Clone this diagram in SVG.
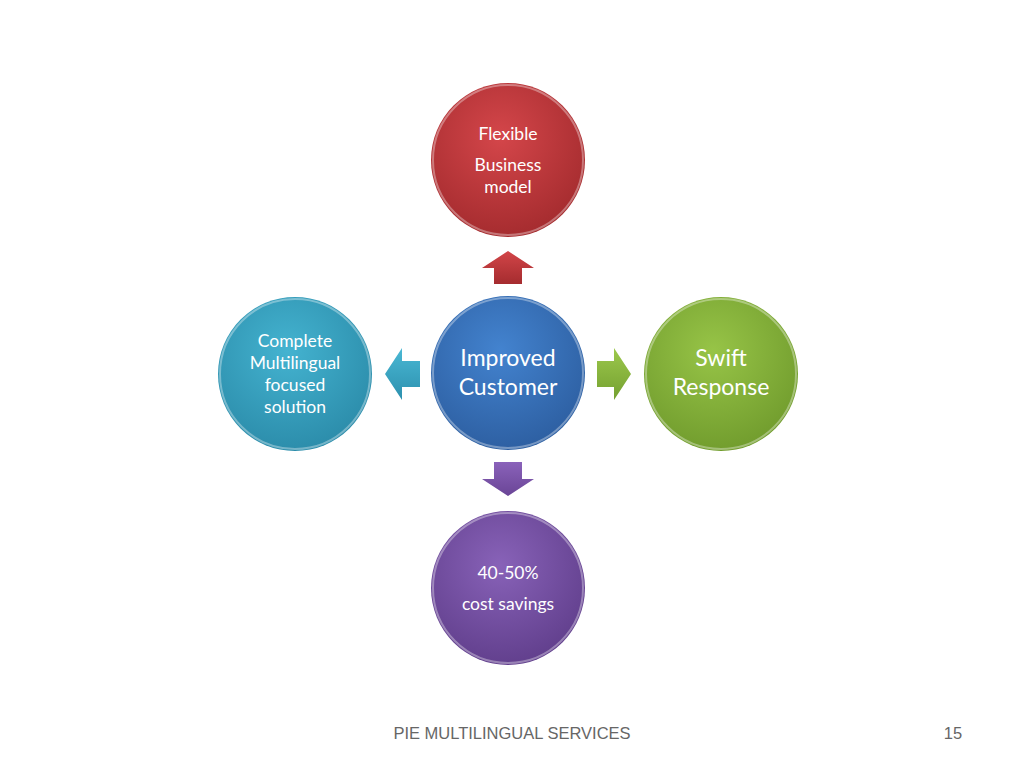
<svg xmlns="http://www.w3.org/2000/svg" width="1024" height="768" viewBox="0 0 1024 768">
<style>
.t{font-family:Lato,"Open Sans","DejaVu Sans",sans-serif;fill:#fff;text-anchor:middle}
.s{font-size:17.5px}
.l{font-size:23px}
.rim{fill:none;stroke:#fff;stroke-opacity:0.35;stroke-width:2}
.foot{font-family:"Liberation Sans",Arial,sans-serif;font-size:16.5px;fill:#666}
</style>
<defs>
<radialGradient id="gr" cx="0.45" cy="0.35" r="0.7"><stop offset="0" stop-color="#d4464a"/><stop offset="1" stop-color="#a22a2d"/></radialGradient>
<radialGradient id="gb" cx="0.45" cy="0.35" r="0.7"><stop offset="0" stop-color="#4383cf"/><stop offset="1" stop-color="#2c5d9f"/></radialGradient>
<radialGradient id="gt" cx="0.45" cy="0.35" r="0.7"><stop offset="0" stop-color="#44b3d0"/><stop offset="1" stop-color="#2a8aa8"/></radialGradient>
<radialGradient id="gg" cx="0.45" cy="0.35" r="0.7"><stop offset="0" stop-color="#97c447"/><stop offset="1" stop-color="#6f9a2c"/></radialGradient>
<radialGradient id="gp" cx="0.45" cy="0.35" r="0.7"><stop offset="0" stop-color="#8862b8"/><stop offset="1" stop-color="#5f3d8a"/></radialGradient>
<linearGradient id="ar" x1="0" y1="0" x2="0" y2="1"><stop offset="0" stop-color="#d24548"/><stop offset="1" stop-color="#a52c2f"/></linearGradient>
<linearGradient id="ap" x1="0" y1="0" x2="0" y2="1"><stop offset="0" stop-color="#8a62ba"/><stop offset="1" stop-color="#6a4596"/></linearGradient>
<linearGradient id="at" x1="0" y1="0" x2="0" y2="1"><stop offset="0" stop-color="#4ab8d4"/><stop offset="1" stop-color="#2c90ae"/></linearGradient>
<linearGradient id="ag" x1="0" y1="0" x2="0" y2="1"><stop offset="0" stop-color="#9cc84c"/><stop offset="1" stop-color="#74a030"/></linearGradient>
</defs>
<rect width="1024" height="768" fill="#fff"/>
<g id="connectors">
<polygon points="508,251 534,268 522,268 522,284 494,284 494,268 482,268" fill="url(#ar)"/>
<polygon points="508,496 534,479 522,479 522,462 494,462 494,479 482,479" fill="url(#ap)"/>
<polygon points="385,374 402,348 402,361 420,361 420,387 402,387 402,400" fill="url(#at)"/>
<polygon points="631,374 614,348 614,361 597,361 597,387 614,387 614,400" fill="url(#ag)"/>
</g>
<g id="node-top">
<circle cx="508" cy="160" r="77" fill="url(#gr)"/>
<circle cx="508" cy="160" r="75" class="rim"/>
<text class="t s" x="508" y="140">Flexible</text>
<text class="t s" x="508" y="171">Business</text>
<text class="t s" x="508" y="193">model</text>
</g>
<g id="node-center">
<circle cx="508" cy="373" r="77" fill="url(#gb)"/>
<circle cx="508" cy="373" r="75" class="rim"/>
<text class="t l" x="508" y="366">Improved</text>
<text class="t l" x="508" y="395">Customer</text>
</g>
<g id="node-left">
<circle cx="295" cy="374" r="77" fill="url(#gt)"/>
<circle cx="295" cy="374" r="75" class="rim"/>
<text class="t s" x="295" y="347">Complete</text>
<text class="t s" x="295" y="369">Multilingual</text>
<text class="t s" x="295" y="391">focused</text>
<text class="t s" x="295" y="413">solution</text>
</g>
<g id="node-right">
<circle cx="721" cy="374" r="77" fill="url(#gg)"/>
<circle cx="721" cy="374" r="75" class="rim"/>
<text class="t l" x="721" y="366">Swift</text>
<text class="t l" x="721" y="395">Response</text>
</g>
<g id="node-bottom">
<circle cx="508" cy="588" r="77" fill="url(#gp)"/>
<circle cx="508" cy="588" r="75" class="rim"/>
<text class="t s" x="508" y="579">40-50%</text>
<text class="t s" x="508" y="610">cost savings</text>
</g>
<text class="foot" x="512" y="739" text-anchor="middle">PIE MULTILINGUAL SERVICES</text>
<text class="foot" x="953" y="739" text-anchor="middle">15</text>
</svg>
